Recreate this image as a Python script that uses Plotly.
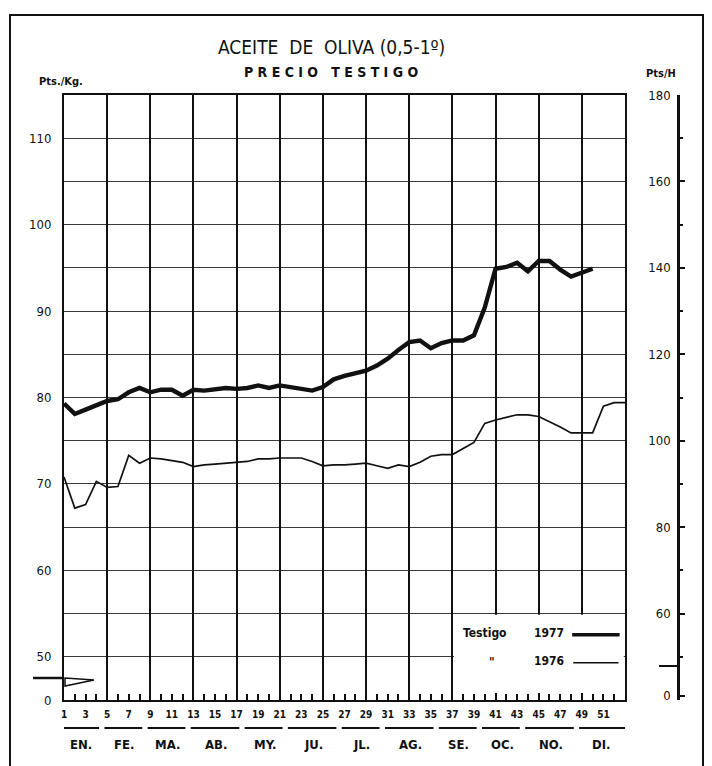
import plotly.graph_objects as go

# ---------------- data ----------------
weeks_1977 = list(range(1, 51))
precio_1977 = [79.3, 78.1, 78.6, 79.1, 79.6, 79.8, 80.6, 81.1, 80.6, 80.9,
               80.9, 80.2, 80.9, 80.8, 81.0, 81.1, 81.0, 81.1, 81.4, 81.1,
               81.4, 81.2, 81.0, 80.8, 81.2, 82.1, 82.5, 82.8, 83.1, 83.7,
               84.5, 85.5, 86.4, 86.6, 85.7, 86.3, 86.6, 86.6, 87.2, 90.4,
               94.9, 95.1, 95.6, 94.6, 95.8, 95.8, 94.8, 94.0, 94.4, 94.9]

weeks_1976 = list(range(1, 54))
precio_1976 = [70.8, 67.2, 67.6, 70.3, 69.6, 69.7, 73.3, 72.4, 73.0, 72.9,
               72.7, 72.5, 72.0, 72.2, 72.3, 72.4, 72.5, 72.6, 72.9, 72.9,
               73.0, 73.0, 73.0, 72.6, 72.1, 72.2, 72.2, 72.3, 72.4, 72.1,
               71.8, 72.2, 72.0, 72.5, 73.2, 73.4, 73.4, 74.1, 74.8, 77.0,
               77.4, 77.7, 78.0, 78.0, 77.8, 77.2, 76.6, 75.9, 75.9, 75.9,
               79.0, 79.4, 79.4]

week_tick_vals = list(range(1, 54))
week_tick_text = [str(w) if (w % 2 == 1 and w <= 51) else "" for w in week_tick_vals]
grid_weeks = list(range(1, 54, 4))

left_tick_vals = [45, 50, 55, 60, 65, 70, 75, 80, 85, 90, 95, 100, 105, 110, 115]
left_tick_text = ["0", "50", "", "60", "", "70", "", "80", "", "90", "", "100", "", "110", ""]

right_tick_vals = [41, 60, 80, 100, 120, 140, 160, 180]
right_tick_text = ["0", "60", "80", "100", "120", "140", "160", "180"]

month_labels = ["EN.", "FE.", "MA.", "AB.", "MY.", "JU.", "JL.", "AG.", "SE.", "OC.", "NO.", "DI."]
month_first_week = [1, 5, 9, 13, 18, 22, 27, 31, 36, 40, 44, 49]
month_last_week = [4, 8, 12, 17, 21, 26, 30, 35, 39, 43, 48, 53]

# ---------------- geometry helpers ----------------
OFF = 8                    # page body margin
W, H = 712 - OFF, 766 - OFF
ML, MR, MT, MB = 64 - OFF, 34, 95 - OFF, 66
PW = W - ML - MR           # paper width in px
PH = H - MT - MB           # paper height in px
PLOT_RIGHT = 625 - OFF     # px of right edge of the chart grid


def px(xp):
    """page x pixel -> paper coordinate"""
    return (xp - OFF - ML) / PW


def py(yp):
    """page y pixel -> paper coordinate"""
    return (H - MB - (yp - OFF)) / PH


FONT = "DejaVu Sans Condensed"
INK = "#111111"

fig = go.Figure()
fig.add_trace(go.Scatter(x=weeks_1977, y=precio_1977, mode="lines",
                         line=dict(color=INK, width=4.4), name="Testigo 1977",
                         showlegend=False))
fig.add_trace(go.Scatter(x=weeks_1976, y=precio_1976, mode="lines",
                         line=dict(color=INK, width=1.7), name="Testigo 1976",
                         showlegend=False))
# carriers for the auxiliary axes (vertical grid and right scale)
fig.add_trace(go.Scatter(x=[None], y=[None], xaxis="x2", yaxis="y",
                         showlegend=False, hoverinfo="skip"))
fig.add_trace(go.Scatter(x=[None], y=[None], xaxis="x", yaxis="y2",
                         showlegend=False, hoverinfo="skip"))

dom_right = (PLOT_RIGHT - ML) / PW

fig.update_layout(
    template="none",
    width=W, height=H,
    margin=dict(l=ML, r=MR, t=MT, b=MB, pad=0, autoexpand=False),
    paper_bgcolor="white", plot_bgcolor="white",
    showlegend=False,
    font=dict(family=FONT, color=INK),
    xaxis=dict(domain=[0, dom_right], range=[1, 53], automargin=False,
               tickmode="array", tickvals=week_tick_vals, ticktext=week_tick_text,
               ticks="inside", ticklen=6, tickwidth=1.5, tickcolor=INK,
               showline=True, linecolor=INK, linewidth=2, mirror=True,
               showgrid=False, zeroline=False, ticklabelstandoff=4,
               tickfont=dict(family=FONT, size=10, color=INK, weight="bold")),
    xaxis2=dict(overlaying="x", anchor="y", side="bottom", range=[1, 53], automargin=False,
                tickmode="array", tickvals=grid_weeks, showticklabels=False,
                ticks="", showline=False, zeroline=False,
                showgrid=True, gridcolor=INK, gridwidth=1.8),
    yaxis=dict(range=[45, 115], tickmode="array", automargin=False,
               tickvals=left_tick_vals, ticktext=left_tick_text,
               ticks="", showline=True, linecolor=INK, linewidth=2, mirror=True,
               showgrid=True, gridcolor="#3a3a3a", gridwidth=1.4, zeroline=False,
               ticklabelstandoff=8,
               tickfont=dict(family=FONT, size=13, color=INK)),
    yaxis2=dict(overlaying="y", side="left", anchor="free", position=1.0, automargin=False,
                range=[40, 180], tickmode="array",
                tickvals=right_tick_vals, ticktext=right_tick_text,
                ticks="inside", ticklen=5, tickwidth=1.5, tickcolor=INK,
                minor=dict(tickvals=[50, 70, 90, 110, 130, 150, 170],
                           ticks="inside", ticklen=3, tickcolor=INK),
                showline=True, linecolor=INK, linewidth=2.5,
                showgrid=False, zeroline=False, ticklabelstandoff=4,
                tickfont=dict(family=FONT, size=13, color=INK)),
)

shapes = []
# outer frame
shapes.append(dict(type="rect", xref="paper", yref="paper",
                   x0=px(10), x1=px(703), y0=py(790), y1=py(15),
                   line=dict(color=INK, width=2), fillcolor="rgba(0,0,0,0)"))
# blank legend box (no grid inside)
shapes.append(dict(type="rect", xref="x", yref="y", x0=37.15, x1=52.88,
                   y0=45.8, y1=54.85, fillcolor="white", line=dict(width=0),
                   layer="above"))
# legend samples
shapes.append(dict(type="line", xref="x", yref="y", x0=48.1, x1=52.5,
                   y0=52.55, y1=52.55, line=dict(color=INK, width=3.5)))
shapes.append(dict(type="line", xref="x", yref="y", x0=48.2, x1=52.4,
                   y0=49.3, y1=49.3, line=dict(color=INK, width=1.5)))
# month underlines
for a, b in zip(month_first_week, month_last_week):
    shapes.append(dict(type="line", xref="x", yref="paper",
                       x0=max(a - 0.25, 1.0), x1=min(b + 0.25, 53.2),
                       y0=py(728), y1=py(728), line=dict(color=INK, width=1.8)))
# axis-break marks
shapes.append(dict(type="line", xref="paper", yref="paper", x0=px(33), x1=px(63),
                   y0=py(678), y1=py(678), line=dict(color=INK, width=2.5)))
shapes.append(dict(type="path", xref="paper", yref="paper",
                   path="M {} {} L {} {} L {} {} Z".format(px(65), py(678), px(94), py(680),
                                                         px(65), py(686)),
                   line=dict(color=INK, width=1.5), fillcolor="white"))
shapes.append(dict(type="line", xref="paper", yref="paper", x0=px(659), x1=px(679),
                   y0=py(666), y1=py(666), line=dict(color=INK, width=2)))
fig.update_layout(shapes=shapes)

ann = []
ann.append(dict(text="ACEITE  DE  OLIVA (0,5-1º)", xref="paper", yref="paper",
                x=px(331), y=py(47), showarrow=False, xanchor="center", yanchor="middle",
                font=dict(family=FONT, size=19, color=INK)))
ann.append(dict(text="P R E C I O   T E S T I G O", xref="paper", yref="paper",
                x=px(331), y=py(72), showarrow=False, xanchor="center", yanchor="middle",
                font=dict(family=FONT, size=14, color=INK, weight="bold")))
ann.append(dict(text="Pts./Kg.", xref="paper", yref="paper",
                x=px(61), y=py(81), showarrow=False, xanchor="center", yanchor="middle",
                font=dict(family=FONT, size=11, color=INK, weight="bold")))
ann.append(dict(text="Pts/H", xref="paper", yref="paper",
                x=px(661), y=py(73), showarrow=False, xanchor="center", yanchor="middle",
                font=dict(family=FONT, size=11, color=INK, weight="bold")))
# legend texts
ann.append(dict(text="Testigo", xref="x", yref="y", x=37.8, y=52.75,
                showarrow=False, xanchor="left", yanchor="middle",
                font=dict(family=FONT, size=12, color=INK, weight="bold")))
ann.append(dict(text="1977", xref="x", yref="y", x=47.5, y=52.75,
                showarrow=False, xanchor="right", yanchor="middle",
                font=dict(family=FONT, size=12, color=INK, weight="bold")))
ann.append(dict(text="\"", xref="x", yref="y", x=40.7, y=49.4,
                showarrow=False, xanchor="center", yanchor="middle",
                font=dict(family=FONT, size=12, color=INK, weight="bold")))
ann.append(dict(text="1976", xref="x", yref="y", x=47.5, y=49.5,
                showarrow=False, xanchor="right", yanchor="middle",
                font=dict(family=FONT, size=12, color=INK, weight="bold")))
# month labels
for lab, a, b in zip(month_labels, month_first_week, month_last_week):
    ann.append(dict(text=lab, xref="x", yref="paper", x=(a + min(b, 52.5)) / 2 + 0.1,
                    y=py(744), showarrow=False, xanchor="center", yanchor="middle",
                    font=dict(family=FONT, size=13, color=INK, weight="bold")))
fig.update_layout(annotations=ann)

fig.write_html("out.html")
